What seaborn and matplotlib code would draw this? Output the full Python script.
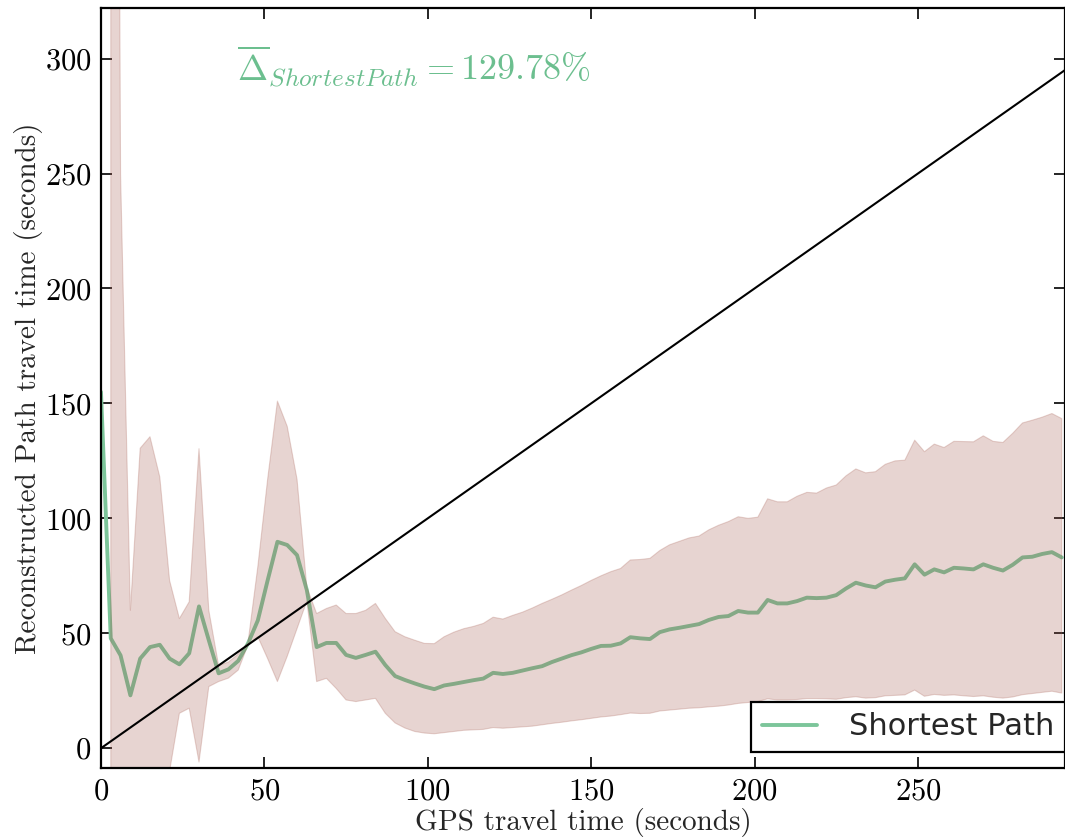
import numpy as np
import matplotlib
matplotlib.use("Agg")
import matplotlib.pyplot as plt
import seaborn as sns

# ---------------- data ----------------
GPS_TIME = list(range(0, 297, 3))  # GPS travel time bins (seconds)

MEAN_SHORTEST = [
    155, 47.8, 40.4, 23, 39, 44, 45, 39, 36.5, 41.3,
    61.7, 47, 32.6, 34.3, 38, 45.6, 55.6, 73, 89.8, 88.4,
    84, 68.8, 44, 45.8, 45.8, 40.6, 39.3, 40.6, 42, 36.2,
    31.4, 29.7, 28.2, 26.8, 25.7, 27.3, 28, 28.8, 29.6, 30.3,
    32.8, 32.3, 32.8, 33.8, 34.8, 35.7, 37.5, 39, 40.5, 41.7,
    43.2, 44.5, 44.6, 45.6, 48.3, 47.8, 47.5, 50.5, 51.7, 52.4,
    53.2, 54, 55.8, 57.1, 57.5, 59.7, 59, 59, 64.5, 63,
    63, 64, 65.5, 65.3, 65.5, 66.6, 69.5, 72, 70.8, 70,
    72.5, 73.3, 73.9, 80, 75.5, 77.8, 76.5, 78.5, 78.2, 77.8,
    80, 78.5, 77.3, 79.8, 83, 83.3, 84.5, 85.3, 83,
]

UPPER_SHORTEST = [
    np.nan, 1200, 250, 60, 130.5, 135.5, 118, 73, 56.4, 63.7,
    130.3, 60, 36, 37.5, 41, 46, 79, 117, 151, 140,
    117, 70, 58.6, 60.8, 62.3, 58.6, 58.6, 60, 63, 56.5,
    50.7, 48.5, 47, 45.6, 45.5, 48.5, 50.5, 52, 53, 54.3,
    57, 56.2, 57.8, 59.2, 61, 63, 64.8, 66.7, 68.8, 70.8,
    73, 75, 76.8, 78.2, 81.9, 82.1, 82.6, 86, 88.5, 90,
    91.5, 92.3, 95, 97, 98.6, 100.7, 100, 100.5, 108.5, 107.2,
    107.2, 109.6, 111.3, 111, 113.2, 114.5, 118.5, 121.5, 119.8, 120.3,
    123.5, 125, 125.3, 134, 129, 132.3, 130.8, 133.5, 133.4, 133.3,
    135.9, 133.5, 133, 137, 141.5, 142.7, 144, 145.6, 143.4,
]

LOWER_SHORTEST = [
    np.nan, -300, -200, -100, -80, -70, -50, -10, 15.2, 17.4,
    -6, 26.8, 29, 30.5, 34, 45, 48.5, 39, 29, 40,
    52, 64, 29, 30.4, 26, 21, 20.3, 21, 21.7, 15.2,
    11, 8.8, 7.3, 6.6, 6.3, 6.8, 7.3, 7.8, 8, 8.2,
    9, 8.7, 9, 9.3, 9.6, 10.2, 10.8, 11.3, 11.9, 12.4,
    13, 13.6, 14, 14.6, 15.3, 15.1, 15.2, 16.2, 16.6, 17,
    17.4, 17.6, 18, 18.3, 18.8, 19.5, 19.9, 20.3, 21.5, 21,
    21, 21.2, 21.6, 21.6, 21.5, 21.3, 22, 22.4, 21.8, 22,
    22.8, 23, 23.2, 25.3, 22.6, 23.4, 23, 23.2, 22.8, 22.5,
    22.8, 22.2, 21.8, 22.3, 23.3, 23.8, 24.3, 24.8, 24,
]

SERIES_LABEL = "Shortest Path"
MEAN_DELTA = "129.78"
X_LABEL = "GPS travel time (seconds)"
Y_LABEL = "Reconstructed Path travel time (seconds)"
X_TICKS = [0, 50, 100, 150, 200, 250]
Y_TICKS = [0, 50, 100, 150, 200, 250, 300]

# ---------------- style ----------------
sns.set_style("ticks")
plt.rcParams["font.family"] = ["cmr10", "DejaVu Serif"]
plt.rcParams["mathtext.fontset"] = "cm"
plt.rcParams["axes.formatter.use_mathtext"] = True
plt.rcParams["axes.unicode_minus"] = False

LINE_COLOR = "#7cc59a"
BAND_COLOR = "#a3574b"
TEXT_COLOR = "#6cbf8f"

fig = plt.figure(figsize=(10.65, 8.4), dpi=100)
ax = fig.add_axes([0.0948, 0.0857, 0.9052, 0.9048])

sns.lineplot(x=GPS_TIME, y=MEAN_SHORTEST, ax=ax, color=LINE_COLOR,
             linewidth=2.8, label=SERIES_LABEL, zorder=1)
ax.fill_between(GPS_TIME, LOWER_SHORTEST, UPPER_SHORTEST,
                color=BAND_COLOR, alpha=0.25, linewidth=0.8, zorder=2)
ax.axline((0, 0), slope=1, color="black", linewidth=1.5, zorder=3)

ax.set_xlim(0, 295)
ax.set_ylim(-8.6, 322)
ax.set_xticks(X_TICKS)
ax.set_yticks(Y_TICKS)
ax.tick_params(direction="in", top=True, right=True, length=8, width=1.2,
               labelsize=22, pad=7, colors="black")
for s in ax.spines.values():
    s.set_color("black")
    s.set_linewidth(1.6)

ax.set_xlabel(X_LABEL, fontsize=21, labelpad=2)
ax.set_ylabel(Y_LABEL, fontsize=21, labelpad=1)

ax.text(41.5, 290, r"$\overline{\Delta}_{Shortest Path}=" + MEAN_DELTA + r"\%$",
        color=TEXT_COLOR, fontsize=26, ha="left", va="baseline")

leg = ax.legend(loc="lower right", bbox_to_anchor=(1.0, 0.021),
                borderaxespad=0, frameon=True, fancybox=False,
                prop={"family": "DejaVu Sans", "size": 22},
                handlelength=1.8, handletextpad=1.05, borderpad=0.35)
leg.get_frame().set_edgecolor("black")
leg.get_frame().set_linewidth(1.6)
leg.get_frame().set_alpha(1)
leg.set_zorder(5)

fig.savefig("out.png", dpi=100)
